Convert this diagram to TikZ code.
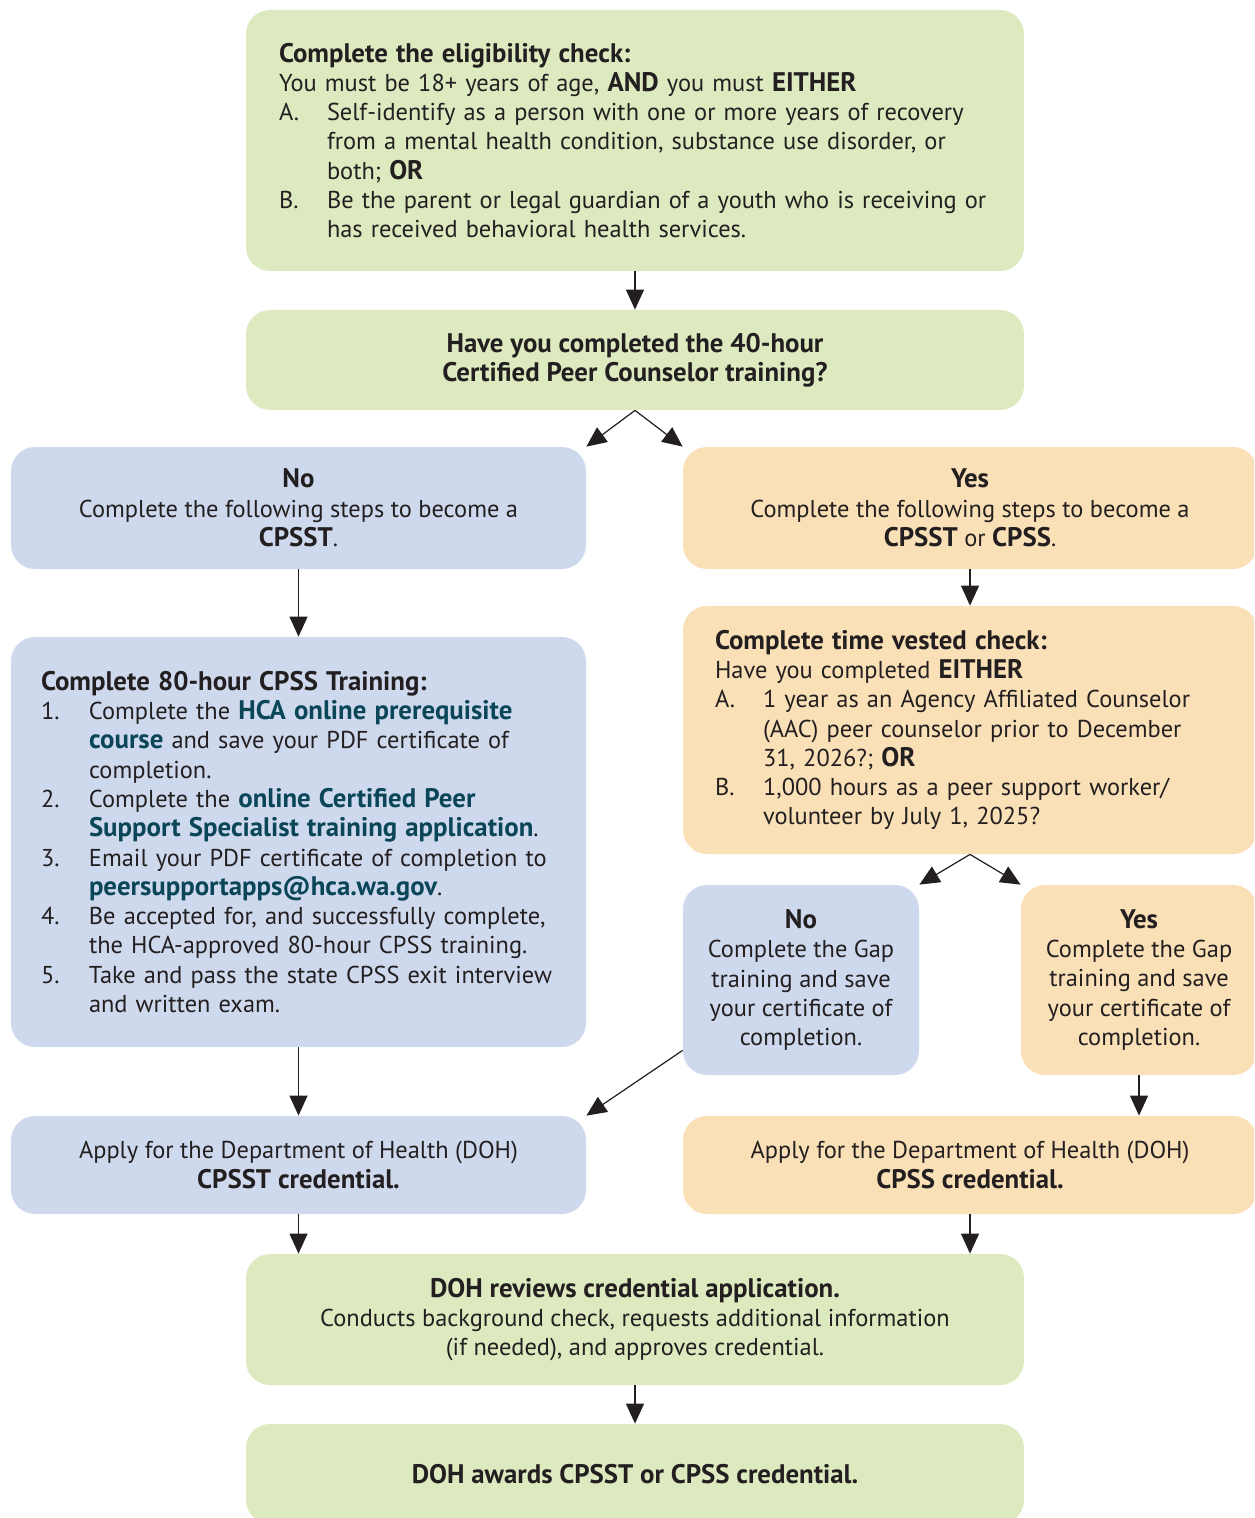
\documentclass[tikz,border=0pt]{standalone}
\usepackage{fontspec}
\setmainfont{PT Sans}[BoldFeatures={Scale=1.1}]
\usetikzlibrary{arrows.meta, calc}

\definecolor{boxgreen}{RGB}{221,234,192}
\definecolor{boxblue}{RGB}{206,217,237}
\definecolor{boxorange}{RGB}{250,224,182}
\definecolor{linkteal}{RGB}{10,70,88}
\definecolor{textdark}{RGB}{35,31,32}

\newcommand\lnk[1]{\textbf{\color{linkteal}#1}}
\newcommand\lbl[1]{\makebox[24pt][l]{#1}}
\newcommand\hng{\hspace*{24pt}}

\begin{document}
\begin{tikzpicture}[x=0.5pt, y=-0.5pt,
  box/.style={rounded corners=12pt, inner ysep=2pt, text=textdark,
    font=\fontsize{12.2}{14.65}\selectfont},
  arr/.style={-{Triangle[length=10pt, width=9pt]}, line width=0.6pt, draw=textdark, fill=textdark}]
% Page
\useasboundingbox (0,0) rectangle (1254,1518);
\clip (0,0) rectangle (1254,1518);

% Eligibility and question
\node[box, fill=boxgreen, text width=356pt, inner xsep=16.5pt, minimum height=130.5pt, align=left] (elig) at (635,140.5)
  {\textbf{Complete the eligibility check:}\\
   You must be 18+ years of age, \textbf{AND} you must \textbf{EITHER}\\
   \lbl{A.}Self-identify as a person with one or more years of recovery\\
   \hng from a mental health condition, substance use disorder, or\\
   \hng both; \textbf{OR}\\
   \lbl{B.}Be the parent or legal guardian of a youth who is receiving or\\
   \hng has received behavioral health services.};
\node[box, fill=boxgreen, minimum width=389pt, minimum height=50pt, align=center] (q) at (635,360)
  {\textbf{Have you completed the 40-hour}\\ \textbf{Certified Peer Counselor training?}};

% No branch
\node[box, fill=boxblue, minimum width=287.5pt, minimum height=61pt, align=center] (no) at (298.5,508)
  {\textbf{No}\\ Complete the following steps to become a\\ \textbf{CPSST}.};
\node[box, fill=boxblue, text width=257.5pt, inner xsep=15pt, minimum height=205pt, align=left] (train) at (298.5,842)
  {\textbf{Complete 80-hour CPSS Training:}\\
   \lbl{1.}Complete the \lnk{HCA online prerequisite}\\
   \hng\lnk{course} and save your PDF certificate of\\
   \hng completion.\\
   \lbl{2.}Complete the \lnk{online Certified Peer}\\
   \hng\lnk{Support Specialist training application}.\\
   \lbl{3.}Email your PDF certificate of completion to\\
   \hng\lnk{peersupportapps@hca.wa.gov}.\\
   \lbl{4.}Be accepted for, and successfully complete,\\
   \hng the HCA-approved 80-hour CPSS training.\\
   \lbl{5.}Take and pass the state CPSS exit interview\\
   \hng and written exam.};
\node[box, fill=boxblue, minimum width=287.5pt, minimum height=49pt, align=center] (applyno) at (298.5,1165)
  {Apply for the Department of Health (DOH)\\ \textbf{CPSST credential.}};

% Yes branch
\node[box, fill=boxorange, minimum width=287pt, minimum height=61pt, align=center] (yes) at (970,508)
  {\textbf{Yes}\\ Complete the following steps to become a\\ \textbf{CPSST} or \textbf{CPSS}.};
\node[box, fill=boxorange, text width=255pt, inner xsep=16pt, minimum height=124pt, align=left] (vest) at (970,730)
  {\textbf{Complete time vested check:}\\
   Have you completed \textbf{EITHER}\\
   \lbl{A.}1 year as an Agency Affiliated Counselor\\
   \hng(AAC) peer counselor prior to December\\
   \hng 31, 2026?; \textbf{OR}\\
   \lbl{B.}1,000 hours as a peer support worker/\\
   \hng volunteer by July 1, 2025?};
\node[box, fill=boxblue, minimum width=118pt, minimum height=95pt, align=center] (gapno) at (801,980)
  {\textbf{No}\\ Complete the Gap\\ training and save\\ your certificate of\\ completion.};
\node[box, fill=boxorange, minimum width=118pt, minimum height=95pt, align=center] (gapyes) at (1139,980)
  {\textbf{Yes}\\ Complete the Gap\\ training and save\\ your certificate of\\ completion.};
\node[box, fill=boxorange, minimum width=287pt, minimum height=49pt, align=center] (applyyes) at (970,1165)
  {Apply for the Department of Health (DOH)\\ \textbf{CPSS credential.}};

% DOH steps
\node[box, fill=boxgreen, minimum width=389pt, minimum height=65.5pt, align=center] (review) at (635,1319.5)
  {\textbf{DOH reviews credential application.}\\
   Conducts background check, requests additional information\\
   (if needed), and approves credential.};
\node[box, fill=boxgreen, minimum width=389pt, minimum height=50pt, align=center] (award) at (635,1474)
  {\textbf{DOH awards CPSST or CPSS credential.}};

% Arrows
\draw[arr] (elig.south) -- (q.north);
\draw[arr] (q.south) -- (no.north east);
\draw[arr] (q.south) -- (yes.north west);
\draw[arr] (no.south) -- (train.north);
\draw[arr] (yes.south) -- (vest.north);
\draw[arr] (vest.south) -- (gapno.north east);
\draw[arr] (vest.south) -- (gapyes.north west);
\draw[arr] (train.south) -- (applyno.north);
\draw[arr] ($(gapno.south west)+(0,-25)$) -- (applyno.north east);
\draw[arr] (gapyes.south) -- (gapyes.south |- applyyes.north);
\draw[arr] (applyno.south) -- (applyno.south |- review.north);
\draw[arr] (applyyes.south) -- (applyyes.south |- review.north);
\draw[arr] (review.south) -- (award.north);
\end{tikzpicture}
\end{document}
